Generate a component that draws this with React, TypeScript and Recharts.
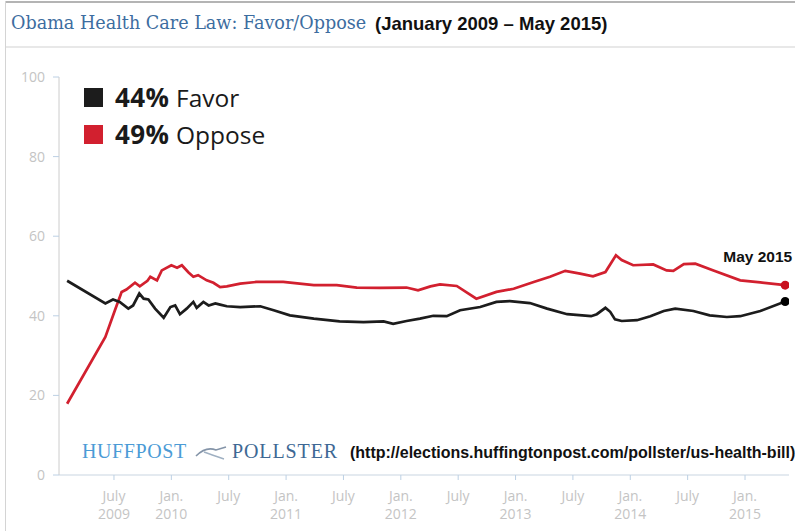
import { LineChart, Line, XAxis, YAxis } from 'recharts';

// months counted from Jan 2009 (0 = Jan 2009)
const favorMonths = [1.1, 5.1, 5.9, 6.6, 7.5, 8.0, 8.65, 9.1, 9.6, 10.3, 11.2, 11.9, 12.4, 12.9, 13.6, 14.3, 14.65, 15.35, 15.9, 16.6, 17.1, 17.8, 19.2, 21.3, 22.7, 24.4, 26.9, 29.6, 32.1, 34.2, 35.2, 36.6, 38.0, 39.4, 40.8, 42.2, 44.3, 46.0, 47.4, 49.5, 51.3, 53.4, 55.9, 56.5, 57.4, 57.9, 58.4, 59.1, 60.7, 62.1, 63.5, 64.7, 66.6, 68.3, 70.1, 71.5, 73.6, 76.2];
const favorValues = [48.8, 43.1, 44.1, 43.5, 41.8, 42.6, 45.6, 44.3, 44.1, 41.8, 39.5, 42.2, 42.6, 40.4, 41.8, 43.5, 42.0, 43.5, 42.6, 43.1, 42.8, 42.4, 42.2, 42.4, 41.4, 40.1, 39.3, 38.6, 38.4, 38.6, 38.0, 38.7, 39.3, 40.0, 39.9, 41.4, 42.2, 43.5, 43.7, 43.2, 41.8, 40.4, 39.9, 40.4, 42.0, 41.0, 39.1, 38.7, 38.9, 39.9, 41.2, 41.8, 41.2, 40.1, 39.7, 39.9, 41.2, 43.6];

const opposeMonths = [1.1, 5.1, 6.1, 6.8, 7.3, 8.2, 8.7, 9.5, 9.8, 10.5, 11.0, 12.0, 12.6, 13.1, 13.8, 14.3, 14.8, 15.7, 16.4, 17.1, 17.8, 19.2, 20.9, 23.7, 26.9, 29.3, 31.4, 33.8, 36.6, 37.8, 39.1, 40.1, 41.85, 43.9, 46.0, 47.8, 49.9, 51.6, 53.2, 54.75, 56.1, 57.4, 58.5, 59.1, 60.3, 62.4, 63.8, 64.5, 65.6, 66.8, 68.7, 71.5, 73.6, 76.2];
const opposeValues = [17.9, 34.7, 41.4, 46.0, 46.6, 48.3, 47.4, 48.8, 49.8, 48.9, 51.4, 52.7, 52.1, 52.7, 50.9, 49.8, 50.2, 48.9, 48.3, 47.2, 47.4, 48.1, 48.5, 48.5, 47.7, 47.7, 47.1, 47.0, 47.1, 46.4, 47.4, 47.9, 47.5, 44.3, 46.0, 46.8, 48.5, 49.8, 51.3, 50.6, 49.9, 51.0, 55.2, 54.0, 52.7, 52.9, 51.4, 51.3, 53.0, 53.1, 51.4, 48.9, 48.4, 47.7];

const tickMonths = [6, 12, 18, 24, 30, 36, 42, 48, 54, 60, 66, 72];
const tickMonthNames = ['July', 'Jan.', 'July', 'Jan.', 'July', 'Jan.', 'July', 'Jan.', 'July', 'Jan.', 'July', 'Jan.'];
const tickYears = ['2009', '2010', '', '2011', '', '2012', '', '2013', '', '2014', '', '2015'];
const yTicks = [0, 20, 40, 60, 80, 100];

const favorLabel = '44%';
const opposeLabel = '49%';
const endLabel = 'May 2015';

const RED = '#d2202f';
const BLACK = '#1c1c1c';

const favorData = favorMonths.map((m, i) => ({ m, v: favorValues[i] }));
const opposeData = opposeMonths.map((m, i) => ({ m, v: opposeValues[i] }));

function MonthTick(props: any) {
  const { x, y, payload } = props;
  const i = tickMonths.indexOf(payload.value);
  return (
    <text x={x} textAnchor="middle" fill="#c4c4c4" fontSize={14} fontFamily="'Open Sans', sans-serif">
      <tspan x={x} y={y + 19}>{tickMonthNames[i]}</tspan>
      <tspan x={x} y={y + 37}>{tickYears[i]}</tspan>
    </text>
  );
}

function endDot(color: string, last: number) {
  return (p: any) =>
    p.index === last
      ? <circle key={p.key ?? 'end'} cx={p.cx} cy={p.cy} r={4.5} fill={color} />
      : <g key={p.key ?? p.index} />;
}

function EndLabel(props: any) {
  const { x, y, index } = props;
  if (index !== opposeValues.length - 1) return null;
  return (
    <text x={x + 7} y={y - 23} textAnchor="end" fontSize={15.5} fontWeight={700} fill="#111" fontFamily="'Liberation Sans', Arial, sans-serif">
      {endLabel}
    </text>
  );
}

export default function App() {
  return (
    <div style={{ position: 'absolute', left: 0, top: 0, width: 795, height: 531, background: '#fff', overflow: 'hidden' }}>
      <LineChart width={795} height={531} margin={{ top: 77, right: 6, left: 19, bottom: 0 }}>
        <XAxis
          type="number"
          dataKey="m"
          domain={[0.25, 76.6]}
          ticks={tickMonths}
          height={56}
          tickSize={5}
          tickMargin={2}
          tick={<MonthTick />}
          axisLine={{ stroke: '#c9d5e1' }}
          tickLine={{ stroke: '#bcd0e4' }}
          allowDataOverflow
        />
        <YAxis
          type="number"
          domain={[0, 100]}
          ticks={yTicks}
          width={40}
          tickSize={6}
          tickMargin={8}
          axisLine={{ stroke: '#cccccc' }}
          tickLine={{ stroke: '#bcd0e4' }}
          tick={{ fill: '#c4c4c4', fontSize: 14, fontFamily: "'Open Sans', sans-serif" }}
        />
        <Line data={opposeData} dataKey="v" type="linear" stroke={RED} strokeWidth={2.7}
          dot={endDot('#c8101e', opposeValues.length - 1)} activeDot={false}
          label={<EndLabel />} isAnimationActive={false} />
        <Line data={favorData} dataKey="v" type="linear" stroke={BLACK} strokeWidth={2.7}
          dot={endDot('#000', favorValues.length - 1)} activeDot={false} isAnimationActive={false} />
      </LineChart>

      <svg width={795} height={531} style={{ position: 'absolute', left: 0, top: 0, pointerEvents: 'none' }}>
        <rect x={5} y={1} width={790} height={2} fill="#b4b4b4" />
        <rect x={5} y={1} width={1} height={530} fill="#d4d4d4" />
        <rect x={6} y={46} width={789} height={2} fill="#e8e8e8" />

        <text x={11} y={29} fontSize={17.6} fill="#3d6da0" fontFamily="'DejaVu Serif', serif">
          Obama Health Care Law: Favor/Oppose
        </text>
        <text x={375} y={30} fontSize={18.5} fontWeight={700} fill="#111" fontFamily="'Liberation Sans', Arial, sans-serif">
          (January 2009 – May 2015)
        </text>

        <rect x={84} y={88} width={19} height={19} fill={BLACK} />
        <text x={115} y={107} fontSize={26} letterSpacing={0.4} fontWeight={700} fill="#1a1a1a" fontFamily="'Open Sans', sans-serif">{favorLabel}</text>
        <text x={176} y={107} fontSize={24.5} fill="#1a1a1a" fontFamily="'Open Sans', sans-serif">Favor</text>
        <rect x={84} y={125} width={19} height={19} fill={RED} />
        <text x={115} y={144} fontSize={26} letterSpacing={0.4} fontWeight={700} fill="#1a1a1a" fontFamily="'Open Sans', sans-serif">{opposeLabel}</text>
        <text x={176} y={144} fontSize={24.5} fill="#1a1a1a" fontFamily="'Open Sans', sans-serif">Oppose</text>

        <text x={82} y={458} fontSize={20} letterSpacing={0.6} fill="#4b9bd6" fontFamily="'Liberation Serif', serif">HUFFPOST</text>
        <path d="M196 456 Q206 446 216 450 L226 447" stroke="#8494a8" strokeWidth={1.6} fill="none" />
        <path d="M204 452 Q212 455 224 459" stroke="#9fb0c2" strokeWidth={1.4} fill="none" />
        <text x={232} y={458} fontSize={20} letterSpacing={0.9} fill="#3e6894" fontFamily="'Liberation Serif', serif">POLLSTER</text>
        <text x={350} y={458} fontSize={16} fontWeight={700} fill="#111" fontFamily="'Liberation Sans', Arial, sans-serif">
          (http://elections.huffingtonpost.com/pollster/us-health-bill)
        </text>
      </svg>
    </div>
  );
}
